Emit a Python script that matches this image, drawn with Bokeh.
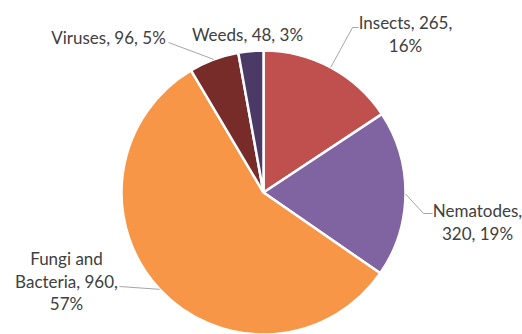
import math
from bokeh.plotting import figure
from bokeh.models import ColumnDataSource, Range1d
from bokeh.core.properties import value
from bokeh.embed import file_html
from bokeh.resources import INLINE

# Crop loss causes
categories = ["Insects", "Nematodes", "Fungi and Bacteria", "Viruses", "Weeds"]
counts = [265, 320, 960, 96, 48]
pct_labels = ["16%", "19%", "57%", "5%", "3%"]
colors = ["#C0504D", "#8064A2", "#F79646", "#772C2A", "#4B3A66"]

W, H = 522, 334
cx, cy, r = 263, 142, 142  # pie center (y measured from bottom) and radius

total = sum(counts)
starts, ends = [], []
acc = 0.0
for v in counts:
    starts.append(math.pi / 2 - 2 * math.pi * acc / total)
    acc += v
    ends.append(math.pi / 2 - 2 * math.pi * acc / total)

src = ColumnDataSource(dict(start=starts, end=ends, color=colors))

p = figure(width=W, height=H, output_backend="svg", toolbar_location=None,
           x_range=Range1d(0, W), y_range=Range1d(0, H), min_border=0)
p.axis.visible = False
p.grid.visible = False
p.outline_line_color = None
p.background_fill_color = "white"

p.wedge(x=cx, y=cy, radius=r, start_angle="start", end_angle="end",
        direction="clock", fill_color="color", line_color="white",
        line_width=2.5, source=src)

# label text lines and anchor (center x, top-line y from top of canvas)
label_lines = {
    "Insects": ([f"{categories[0]}, {counts[0]},", pct_labels[0]], 405, 22),
    "Nematodes": ([f"{categories[1]},", f"{counts[1]}, {pct_labels[1]}"], 477, 210),
    "Fungi and Bacteria": (["Fungi and", f"Bacteria, {counts[2]},", pct_labels[2]], 66, 258),
    "Viruses": ([f"{categories[3]}, {counts[3]}, {pct_labels[3]}"], 108, 37),
    "Weeds": ([f"{categories[4]}, {counts[4]}, {pct_labels[4]}"], 247, 34),
}
line_h = 22.5
xs, ys, ts = [], [], []
for name in categories:
    lines, lx, ly = label_lines[name]
    for i, t in enumerate(lines):
        xs.append(lx)
        ys.append(H - (ly + i * line_h))
        ts.append(t)

p.text(x=xs, y=ys, text=ts, text_align="center", text_baseline="middle",
       text_font=value("Lato"), text_font_size="17px", text_color="#404040")


def edge_point(idx, frac):
    a0, a1 = starts[idx], ends[idx]
    a = a0 + (a1 - a0) * frac
    return cx + r * math.cos(a), cy + r * math.sin(a)

# leader lines: slice mid-edge -> elbow -> label
leaders = [
    (0, [(352, 27), (358, 27)]),
    (1, [(423, 213), (432, 213)]),
    (2, [(119, 286)]),
    (3, [(168, 42)]),
]
for idx, pts in leaders:
    ex, ey = edge_point(idx, 0.5)
    lx = [ex] + [q[0] for q in pts]
    ly = [ey] + [H - q[1] for q in pts]
    p.line(lx, ly, line_color="#A6A6A6", line_width=1)

open("out.html", "w").write(file_html(p, INLINE))
